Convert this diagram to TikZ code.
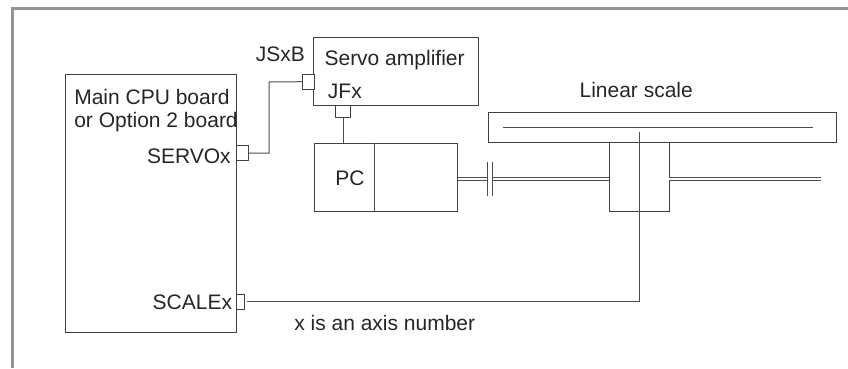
\documentclass[tikz,border=0pt]{standalone}
\usepackage{fontspec}
\setmainfont{Liberation Sans}
\usetikzlibrary{positioning}

\begin{document}
\begin{tikzpicture}[x=0.75pt,y=-0.75pt,line cap=butt,font=\fontsize{15.75}{17.25}\selectfont,text=black!85]
\tikzstyle{box}=[draw=black!75,line width=0.75pt,inner sep=0pt,fill=white]
\tikzstyle{plug}=[box,line width=0.6pt]
\tikzstyle{wire}=[draw=black!70,line width=0.75pt]
\tikzstyle{shaft}=[draw=black!70,line width=0.6pt,double,double distance=1.9pt]
\tikzstyle{label}=[inner sep=0pt,anchor=base west]
\useasboundingbox (0,0) rectangle (848,368);
\draw[black!42,line width=2pt] (12.3,368) -- (12.3,8.3) -- (848,8.3);

% boxes
\node[box,minimum width=128.6pt,minimum height=193.5pt] (main) at (150.9,203.3) {};
\node[box,minimum width=123.8pt,minimum height=51.3pt] (servo) at (396.2,71.5) {};
\node[box,minimum width=107.8pt,minimum height=51pt] (pc) at (385.9,177) {};
\node[box,minimum width=45.2pt,minimum height=51.2pt] (slider) at (639.2,176.9) {};
\node[box,minimum width=261pt,minimum height=22.5pt] (scale) at (662,127.7) {};
\coordinate (divtop) at (374.7,143);
\coordinate (divbot) at (374.7,211);
\coordinate (railL) at (503,127.7);
\coordinate (railR) at (813.3,127.7);

% connectors on the boards
\node[plug,minimum width=8.6pt,minimum height=11pt] (jsxb) at (308.3,81.7) {};
\node[plug,minimum width=11.6pt,minimum height=8.6pt] (jfx) at (343,111.3) {};
\node[plug,minimum width=8.6pt,minimum height=11pt] (servox) at (242.3,153) {};
\node[plug,minimum width=6pt,minimum height=11.5pt] (scalex) at (240,301.7) {};

% shaft with its break
\coordinate (breakA) at (487.7,178.8);
\coordinate (breakB) at (492.3,178.8);
\coordinate (shaftL) at (457.7,178.8);
\coordinate (shaftM) at (609,178.8);
\coordinate (shaftN) at (669.3,178.8);
\coordinate (shaftE) at (820.7,178.8);
\coordinate (breakAtop) at (487.7,161.7);
\coordinate (breakAbot) at (487.7,196);
\coordinate (breakBtop) at (492.3,161.7);
\coordinate (breakBbot) at (492.3,196);
\path[shaft] (shaftL) -- (breakA);
\path[shaft] (breakB) -- (shaftM);
\path[shaft] (shaftN) -- (shaftE);
\path[wire] (breakAtop) -- (breakAbot);
\path[wire] (breakBtop) -- (breakBbot);

% wires
\coordinate (scalegap) at (247,301.7);
\coordinate (probe) at (639,131.7);
\path[wire] (divtop) -- (divbot);
\path[wire] (railL) -- (railR);
\path[wire] (servox.east) -| (269,82) -- (jsxb.west);
\path[wire] (jfx.south) -- (jfx.south |- pc.north);
\path[wire] (scalegap) -| (probe);

% texts
\node[label] (jsxbtext) at (255.7,61) {JSxB};
\node[label] (servotext) at (324.3,65.7) {Servo amplifier};
\node[label] (jfxtext) at (327.7,98.3) {JFx};
\node[label] (pctext) at (335,185) {PC};
\node[label] (scaletext) at (579.3,97.3) {Linear scale};
\node[label] (maintext) at (74,104) {Main CPU board};
\node[label] (optiontext) at (74,127) {or Option 2 board};
\node[label,anchor=base east] (servoxtext) at (231,163.3) {SERVOx};
\node[label,anchor=base east] (scalextext) at (232.3,309) {SCALEx};
\node[label] (axistext) at (294,330) {x is an axis number};
\end{tikzpicture}
\end{document}
